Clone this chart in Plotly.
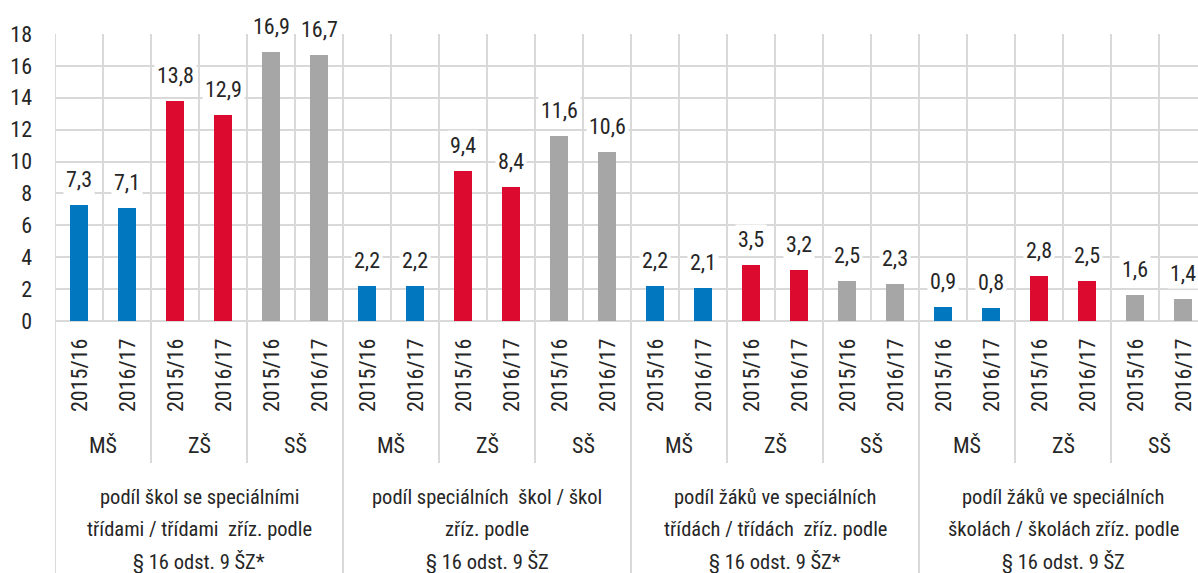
import plotly.graph_objects as go

# ---- data ----
groups = [
    ["podíl škol se speciálními", "třídami / třídami  zříz. podle", "§ 16 odst. 9 ŠZ*"],
    ["podíl speciálních  škol / škol", "zříz. podle", "§ 16 odst. 9 ŠZ"],
    ["podíl žáků ve speciálních", "třídách / třídách  zříz. podle", "§ 16 odst. 9 ŠZ*"],
    ["podíl žáků ve speciálních", "školách / školách zříz. podle", "§ 16 odst. 9 ŠZ"],
]
school_types = ["MŠ", "ZŠ", "SŠ"]
years = ["2015/16", "2016/17"]
values = [
    7.3, 7.1, 13.8, 12.9, 16.9, 16.7,
    2.2, 2.2, 9.4, 8.4, 11.6, 10.6,
    2.2, 2.1, 3.5, 3.2, 2.5, 2.3,
    0.9, 0.8, 2.8, 2.5, 1.6, 1.4,
]
type_colors = {"MŠ": "#0077BE", "ZŠ": "#DC0A2E", "SŠ": "#A6A6A6"}
y_ticks = [0, 2, 4, 6, 8, 10, 12, 14, 16, 18]

FONT = "Roboto Condensed, Liberation Sans Narrow, sans-serif"
TXT = "#262626"
GRID = "#D9D9D9"

n_years = len(years)
n_types = len(school_types)
per_group = n_years * n_types
n = len(values)
xs = list(range(n))
bar_types = [school_types[(i // n_years) % n_types] for i in xs]
bar_years = [years[i % n_years] for i in xs]
colors = [type_colors[t] for t in bar_types]

fig = go.Figure()
fig.add_trace(go.Bar(
    x=xs, y=values, marker=dict(color=colors, line=dict(width=0)),
    width=0.36, hoverinfo="skip", showlegend=False,
))

W, H = 1198, 573
ml, mt = 55, 34
plot_bottom = 321
mb = H - plot_bottom
plot_h = plot_bottom - mt


def py(pix):
    """reference pixel y (from top of window) -> paper coordinate"""
    return (plot_bottom - pix) / plot_h


annotations = []
# data labels
for i, v in enumerate(values):
    annotations.append(dict(
        x=i, y=v, xref="x", yref="y", text=f"{v:.1f}".replace(".", ","),
        showarrow=False, yanchor="bottom", yshift=10, bgcolor="white",
        borderpad=2, font=dict(family=FONT, size=22, color=TXT),
    ))
# year labels
for i in xs:
    annotations.append(dict(
        x=i, y=py(376), xref="x", yref="paper", text=bar_years[i],
        textangle=-90, showarrow=False, yanchor="middle", xanchor="center",
        font=dict(family=FONT, size=22, color=TXT),
    ))
# school-type labels
for k in range(n // n_years):
    annotations.append(dict(
        x=k * n_years + (n_years - 1) / 2, y=py(445), xref="x", yref="paper",
        text=school_types[k % n_types], showarrow=False, yanchor="middle",
        font=dict(family=FONT, size=22, color=TXT),
    ))
# group labels
line_y = [497, 529, 562]
for g, lines in enumerate(groups):
    for li, txt in enumerate(lines):
        annotations.append(dict(
            x=g * per_group + (per_group - 1) / 2, y=py(line_y[li]), xref="x", yref="paper",
            text=txt, showarrow=False, yanchor="middle",
            font=dict(family=FONT, size=20.5, color=TXT),
        ))

shapes = []
for b in range(n + 1):
    xb = b - 0.5
    if b % per_group == 0:
        y0 = py(H + 5)
    elif b % n_years == 0:
        y0 = py(463)
    else:
        y0 = 0
    shapes.append(dict(type="line", xref="x", yref="paper", x0=xb, x1=xb, y0=y0, y1=1,
                       line=dict(color=GRID, width=2), layer="below"))

fig.update_layout(
    width=W, height=H,
    margin=dict(l=ml, r=0, t=mt, b=mb),
    plot_bgcolor="white", paper_bgcolor="white",
    annotations=annotations, shapes=shapes,
    xaxis=dict(range=[-0.5, n - 0.5 - 9 / 48], showticklabels=False, showgrid=False,
               zeroline=False, showline=False, fixedrange=True),
    yaxis=dict(range=[0, 18], tickvals=y_ticks, showgrid=True, gridcolor=GRID, gridwidth=2,
               zeroline=True, zerolinecolor=GRID, zerolinewidth=2, showline=False,
               ticks="", ticklabelstandoff=22,
               tickfont=dict(family=FONT, size=22, color=TXT), fixedrange=True),
    bargap=0,
)

fig.write_html(
    "out.html",
    config={"displayModeBar": False},
    post_script="document.body.style.margin='0';document.body.style.overflow='hidden';",
)
